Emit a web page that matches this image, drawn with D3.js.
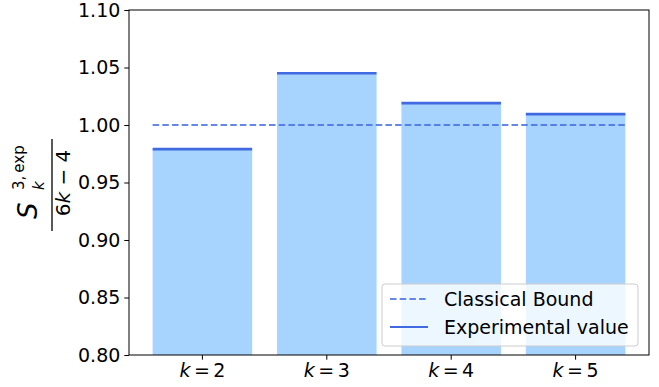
<!DOCTYPE html>
<html><head><meta charset="utf-8">
<script src="https://cdn.jsdelivr.net/npm/d3@7"></script>
<style>body{margin:0;background:#fff}svg{display:block;font-family:"DejaVu Sans",sans-serif}</style>
</head><body><svg id="c" width="659" height="387"></svg>
<script>
const categories = ["2", "3", "4", "5"];
const values = [0.979, 1.045, 1.019, 1.0095];
const classicalBound = 1.0;
const yTicks = [0.80, 0.85, 0.90, 0.95, 1.00, 1.05, 1.10];

const svg = d3.select("#c");
const L = 129, R = 649, T = 10, B = 355;
const x = d3.scaleBand().domain(categories).range([L + 0.09 * 124.4, R - 0.09 * 124.4]).paddingInner(0.2).paddingOuter(0.1);
const y = d3.scaleLinear().domain([0.8, 1.1]).range([B, T]);

// bars
svg.append("g").selectAll("rect").data(values).join("rect")
  .attr("x", (d, i) => x(categories[i])).attr("width", x.bandwidth())
  .attr("y", d => y(d)).attr("height", d => B - y(d))
  .attr("fill", "#a6d4fe");
// experimental lines
svg.append("g").selectAll("line").data(values).join("line")
  .attr("x1", (d, i) => x(categories[i])).attr("x2", (d, i) => x(categories[i]) + x.bandwidth())
  .attr("y1", d => y(d)).attr("y2", d => y(d))
  .attr("stroke", "#4169e1").attr("stroke-width", 2.6);
// classical bound
svg.append("line")
  .attr("x1", x(categories[0])).attr("x2", x(categories[categories.length - 1]) + x.bandwidth())
  .attr("y1", y(classicalBound)).attr("y2", y(classicalBound))
  .attr("stroke", "#4169e1").attr("stroke-opacity", 0.8).attr("stroke-width", 1.8).attr("stroke-dasharray", "6.5,3.2");

// axes
const yAxis = d3.axisLeft(y).tickValues(yTicks).tickFormat(d3.format(".2f")).tickSize(4.7).tickPadding(4);
const gy = svg.append("g").attr("transform", `translate(${L},0)`).call(yAxis);
gy.select(".domain").remove();
gy.selectAll("text").attr("font-size", 19).attr("fill", "#000").attr("font-family", "DejaVu Sans");
gy.selectAll("line").attr("stroke", "#000");
const xAxis = d3.axisBottom(x).tickSize(4.7).tickPadding(4).tickFormat(() => "");
const gx = svg.append("g").attr("transform", `translate(0,${B})`).call(xAxis);
gx.select(".domain").remove();
gx.selectAll("line").attr("stroke", "#000");
gx.selectAll(".tick").each(function(d) {
  const t = d3.select(this).append("text").attr("y", 22).attr("text-anchor", "middle")
    .attr("font-size", 19).attr("fill", "#000").attr("font-family", "DejaVu Sans").attr("dy", "0");
  t.append("tspan").attr("font-style", "italic").text("k");
  t.append("tspan").attr("dx", 3.5).text("=");
  t.append("tspan").attr("dx", 3.5).text(d);
});
// frame
svg.append("rect").attr("x", L).attr("y", T).attr("width", R - L).attr("height", B - T)
  .attr("fill", "none").attr("stroke", "#000").attr("stroke-width", 1);

// y label (fraction)
const lab = svg.append("g").attr("transform", "translate(52,185) rotate(-90)").attr("font-family", "DejaVu Sans");
lab.append("line").attr("x1", -46).attr("x2", 46).attr("y1", 0).attr("y2", 0).attr("stroke", "#000").attr("stroke-width", 1.3);
const den = lab.append("text").attr("x", 2).attr("y", 18).attr("text-anchor", "middle").attr("font-size", 20);
den.append("tspan").text("6");
den.append("tspan").attr("font-style", "italic").text("k");
den.append("tspan").text(" \u2212 4");
lab.append("text").attr("x", -34).attr("y", -15).attr("font-size", 26).attr("font-style", "italic").text("S");
lab.append("text").attr("x", -5).attr("y", -8).attr("font-size", 15).attr("font-style", "italic").text("k");
lab.append("text").attr("x", -5).attr("y", -28).attr("font-size", 15).text("3,\u2009exp");

// legend
const lg = svg.append("g");
lg.append("rect").attr("x", 382).attr("y", 284).attr("width", 256).attr("height", 62).attr("rx", 3)
  .attr("fill", "#fff").attr("fill-opacity", 0.8).attr("stroke", "#cccccc").attr("stroke-width", 1);
lg.append("line").attr("x1", 390).attr("x2", 428).attr("y1", 299).attr("y2", 299)
  .attr("stroke", "#4169e1").attr("stroke-opacity", 0.8).attr("stroke-width", 1.8).attr("stroke-dasharray", "6.5,3.2");
lg.append("line").attr("x1", 390).attr("x2", 428).attr("y1", 327).attr("y2", 327)
  .attr("stroke", "#4169e1").attr("stroke-width", 1.8);
lg.append("text").attr("x", 444).attr("y", 306).attr("font-size", 19).text("Classical Bound");
lg.append("text").attr("x", 444).attr("y", 334).attr("font-size", 19).text("Experimental value");
</script></body></html>
